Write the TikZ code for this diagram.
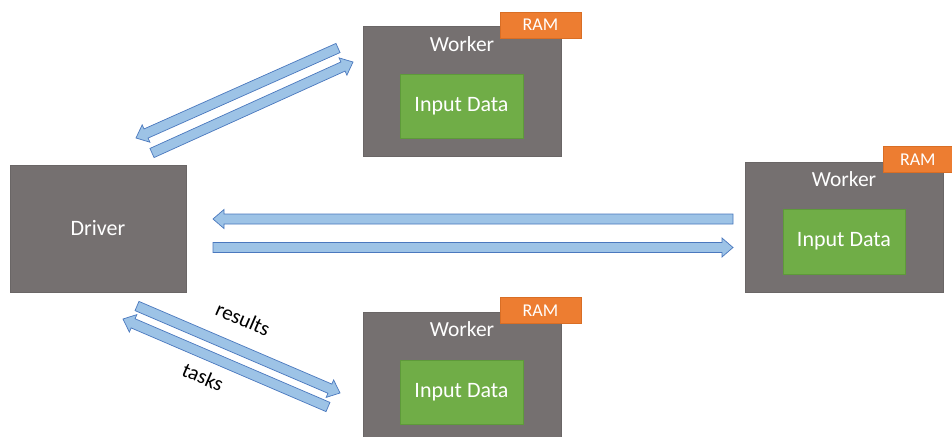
\documentclass[tikz,border=0pt]{standalone}
\usepackage{fontspec}
\setmainfont{Carlito}
\usetikzlibrary{calc}
\definecolor{boxgray}{HTML}{757070}
\definecolor{boxgrayb}{HTML}{6A6666}
\definecolor{datagreen}{HTML}{70AD47}
\definecolor{datagreenb}{HTML}{5E9A3A}
\definecolor{ramorange}{HTML}{ED7D31}
\definecolor{ramorangeb}{HTML}{D96E25}
\definecolor{arrfill}{HTML}{9DC3E6}
\definecolor{arrline}{HTML}{4A78BE}
\tikzset{
  machine/.style={draw=boxgrayb, fill=boxgray, line width=0.6pt, inner sep=0pt},
  databox/.style={draw=datagreenb, fill=datagreen, line width=0.6pt, inner sep=0pt, text=white, font=\fontsize{22}{26}\selectfont},
  rambox/.style={draw=ramorangeb, fill=ramorange, line width=0.6pt, inner sep=0pt, text=white, font=\fontsize{18}{21}\selectfont},
  title/.style={text=white, font=\fontsize{21.5}{26}\selectfont, inner sep=0pt},
  lbl/.style={font=\fontsize{21}{25}\selectfont, inner sep=0pt},
  blockarrow/.style={draw=arrline, fill=arrfill, line width=0.7pt, line join=miter}
}
% #1 tail, #2 tip
\newcommand\blockarr[2]{%
  \coordinate (tmpB) at ($(#2)!11pt!(#1)$);
  \draw[blockarrow] ($(#1)!5pt!90:(#2)$) -- ($(tmpB)!5pt!90:(#2)$) -- ($(tmpB)!9.5pt!90:(#2)$) -- (#2)
    -- ($(tmpB)!9.5pt!-90:(#2)$) -- ($(tmpB)!5pt!-90:(#2)$) -- ($(#1)!5pt!-90:(#2)$) -- cycle;
}
\begin{document}
\begin{tikzpicture}[x=1pt,y=-1pt]
\useasboundingbox (0,0) rectangle (952,436);
\clip (0,0) rectangle (952,436);
\fill[white] (0,0) rectangle (952,436);

% Driver
\node[machine, minimum width=176pt, minimum height=127pt, text=white, font=\fontsize{22}{26}\selectfont] (driver) at (98,228.5) {Driver};

% Top worker
\node[machine, minimum width=198pt, minimum height=130pt] (w1) at (462,91) {};
\node[databox, minimum width=123pt, minimum height=64pt] (d1) at (461.5,106) {Input Data};
\node[rambox, minimum width=81pt, minimum height=26pt] (r1) at (540.5,25) {RAM};
\node[title] (t1) at (462,44) {Worker};

% Right worker
\node[machine, minimum width=198pt, minimum height=130pt] (w2) at (844,227) {};
\node[databox, minimum width=122pt, minimum height=65pt] (d2) at (844,241.5) {Input Data};
\node[rambox, minimum width=81pt, minimum height=26pt, anchor=west] (r2) at (883,159.5) {\hspace*{-12pt}RAM};
\node[title] (t2) at (844,179) {Worker};

% Bottom worker
\node[machine, minimum width=198pt, minimum height=130pt] (w3) at (462,377) {};
\node[databox, minimum width=123pt, minimum height=64pt] (d3) at (461.5,392) {Input Data};
\node[rambox, minimum width=81pt, minimum height=26pt] (r3) at (540.5,310.5) {RAM};
\node[title] (t3) at (462,329) {Worker};

% arrow end coordinates
\coordinate (a1s) at (338,48);  \coordinate (a1e) at (136,138);
\coordinate (a2s) at (152,153); \coordinate (a2e) at (353,62);
\coordinate (a3s) at (733,219); \coordinate (a3e) at (213,219);
\coordinate (a4s) at (213,247.5); \coordinate (a4e) at (733,247.5);
\coordinate (a5s) at (137,306); \coordinate (a5e) at (340,393);
\coordinate (a6s) at (328,407); \coordinate (a6e) at (123,319);

\blockarr{a1s}{a1e}
\blockarr{a2s}{a2e}
\blockarr{a3s}{a3e}
\blockarr{a4s}{a4e}
\blockarr{a5s}{a5e}
\blockarr{a6s}{a6e}

\node[lbl, rotate=-23.5] (lres) at (243,319) {results};
\node[lbl, rotate=-23.5] (ltask) at (203,377) {tasks};
\end{tikzpicture}
\end{document}
